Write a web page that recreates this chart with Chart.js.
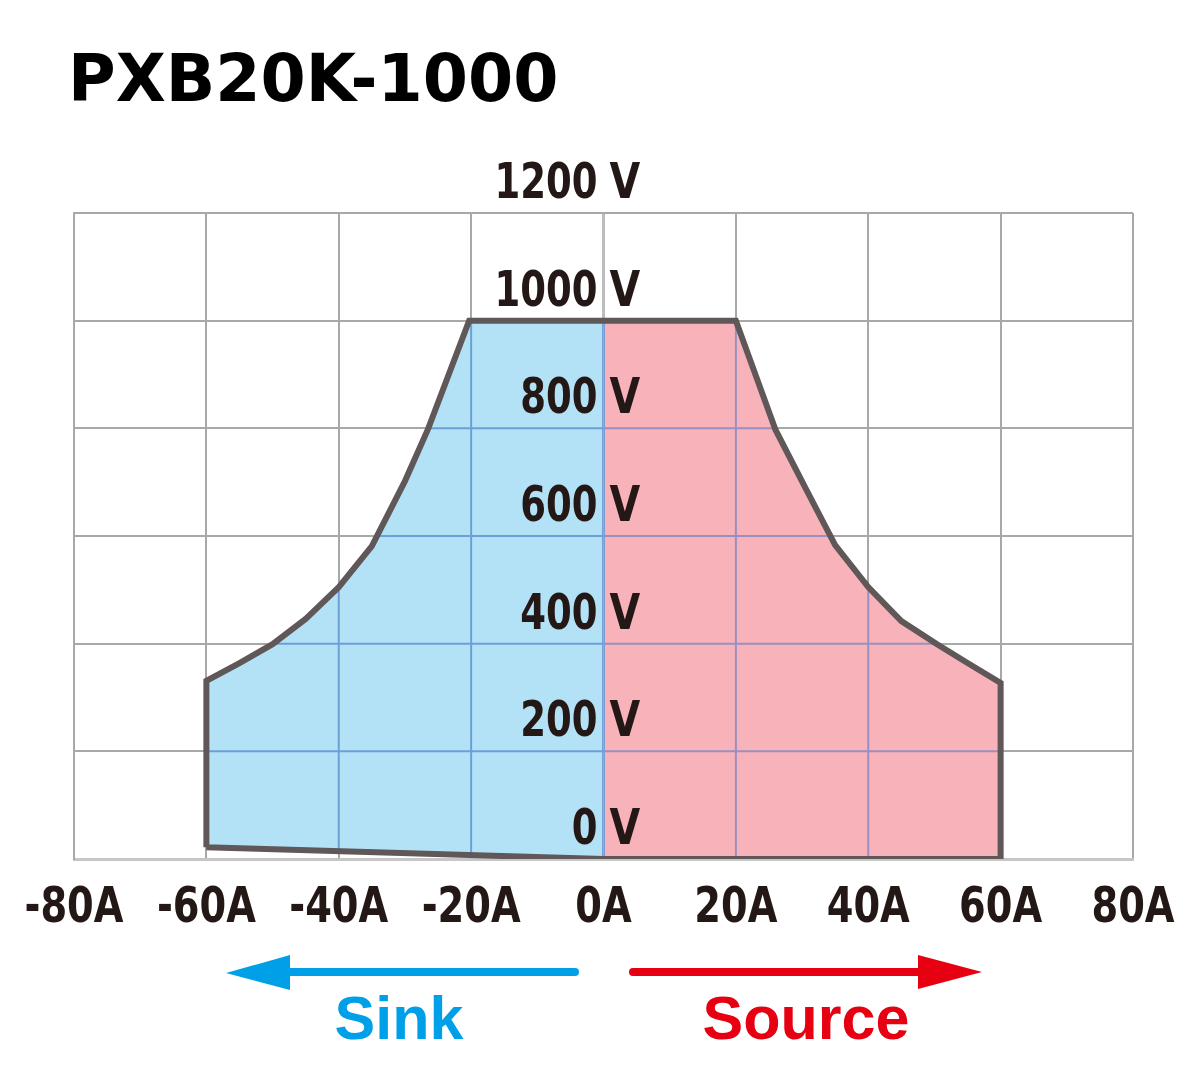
<!DOCTYPE html>
<html lang="en">
<head>
  <meta charset="UTF-8" />
  <title>PXB20K-1000</title>
  <style>
    body {
      margin: 0;
      background: #fff;
    }

    .wrap {
      position: relative;
      width: 1200px;
      height: 1075px;
    }

    .title {
      position: absolute;
      left: 68px;
      top: 46px;
      font-family: "DejaVu Sans", sans-serif;
      font-weight: bold;
      font-size: 65px;
      line-height: 65px;
      color: #000;
      white-space: nowrap;
    }

    .dir {
      position: absolute;
      top: 988px;
      font-family: "Liberation Sans", Arial, sans-serif;
      font-weight: bold;
      font-size: 61px;
      line-height: 61px;
      width: 300px;
      text-align: center;
    }

    #sink { left: 249px; color: #00a0e9; }
    #source { left: 656px; color: #e60012; }

    svg.arrows {
      position: absolute;
      left: 0;
      top: 0;
    }
  </style>
</head>
<body>
  <div class="wrap">
    <canvas id="chart"></canvas>
    <div class="title">PXB20K-1000</div>
    <svg class="arrows" width="1200" height="1075">
      <line x1="288" y1="972" x2="575" y2="972" stroke="#00a0e9" stroke-width="8" stroke-linecap="round" />
      <polygon points="226,973 290,955 290,990" fill="#00a0e9" />
      <line x1="633" y1="972" x2="920" y2="972" stroke="#e60012" stroke-width="8" stroke-linecap="round" />
      <polygon points="918,955 918,989 982,972" fill="#e60012" />
    </svg>
    <div class="dir" id="sink">Sink</div>
    <div class="dir" id="source">Source</div>
  </div>

  <script src="https://cdn.jsdelivr.net/npm/chart.js"></script>
<script>
  // operating area (A, V)
  const sinkCurrent = [0, -60, -60, -55, -50, -45, -40, -35, -30, -26.5, -20.3, 0, 0];
  const sinkVoltage = [0, 22, 331, 364, 399, 446, 505, 581, 702, 799, 1000, 1000, 0];
  const sourceCurrent = [0, 60, 60, 55, 50.4, 45, 40, 35, 30.6, 26, 20, 0, 0];
  const sourceVoltage = [0, 0, 327, 364, 399, 442, 505, 583, 687, 797, 1000, 1000, 0];

  const currentTicks = [-80, -60, -40, -20, 0, 20, 40, 60, 80];
  const voltageTicks = [0, 200, 400, 600, 800, 1000, 1200];

  const toPoints = (xs, ys) => xs.map((x, i) => ({ x: x, y: ys[i] }));

  // outline: sink edge up to the flat top, then down the source edge, back to the start
  const outline = [];
  for (let i = 1; i <= 10; i++) outline.push({ x: sinkCurrent[i], y: sinkVoltage[i] });
  for (let i = 10; i >= 0; i--) outline.push({ x: sourceCurrent[i], y: sourceVoltage[i] });
  outline.push({ x: sinkCurrent[1], y: sinkVoltage[1] });

  const labelFont = 'bold 49px "Liberation Sans Narrow", "DejaVu Sans Condensed", sans-serif';

  // text squeezed horizontally (the original labels use a narrow face)
  function narrowText(ctx, text, x, y, align, squeeze) {
    const w = ctx.measureText(text).width * squeeze;
    let left = x;
    if (align === 'right') left = x - w;
    if (align === 'center') left = x - w / 2;
    ctx.save();
    ctx.translate(left, y);
    ctx.scale(squeeze, 1);
    ctx.textAlign = 'left';
    ctx.fillText(text, 0, 0);
    ctx.restore();
  }

  // blue-ish grid lines over the filled areas, under the outline
  const overlayGrid = {
    id: 'overlayGrid',
    afterDatasetDraw(chart, args) {
      if (args.index !== 0) return;
      const ctx = chart.ctx;
      const xs = chart.scales.x, ys = chart.scales.y;
      const area = chart.chartArea;
      const regions = [
        { idx: 0, color: '#6c9fd8' },
        { idx: 1, color: '#998fc2' }
      ];
      regions.forEach(r => {
        const pts = chart.getDatasetMeta(r.idx).data;
        ctx.save();
        ctx.beginPath();
        pts.forEach((p, i) => i ? ctx.lineTo(p.x, p.y) : ctx.moveTo(p.x, p.y));
        ctx.closePath();
        ctx.clip();
        currentTicks.forEach(v => {
          const px = xs.getPixelForValue(v);
          ctx.lineWidth = v === 0 ? 3 : 2;
          ctx.strokeStyle = v === 0 ? '#789fd6' : r.color;
          ctx.beginPath();
          ctx.moveTo(px, area.top);
          ctx.lineTo(px, area.bottom);
          ctx.stroke();
        });
        ctx.strokeStyle = r.color;
        ctx.lineWidth = 2;
        voltageTicks.forEach(v => {
          const py = ys.getPixelForValue(v);
          ctx.beginPath();
          ctx.moveTo(area.left, py);
          ctx.lineTo(area.right, py);
          ctx.stroke();
        });
        ctx.restore();
      });
    }
  };

  const axisLabels = {
    id: 'axisLabels',
    afterDraw(chart) {
      const ctx = chart.ctx;
      const xs = chart.scales.x, ys = chart.scales.y;
      const x0 = xs.getPixelForValue(0);
      ctx.save();
      ctx.font = labelFont;
      ctx.fillStyle = '#231815';
      ctx.textBaseline = 'alphabetic';
      voltageTicks.forEach(v => {
        const py = ys.getPixelForValue(v) - 15;
        narrowText(ctx, String(v), x0 - 6, py, 'right', 0.84);
        narrowText(ctx, 'V', x0 + 6, py, 'left', 0.9);
      });
      currentTicks.forEach(v => {
        narrowText(ctx, v + 'A', xs.getPixelForValue(v), chart.chartArea.bottom + 63, 'center', 0.87);
      });
      ctx.restore();
    }
  };

  const ctx = document.getElementById('chart').getContext('2d');
  new Chart(ctx, {
    type: 'scatter',
    data: {
      datasets: [
        {
          label: 'Sink',
          data: toPoints(sinkCurrent, sinkVoltage),
          showLine: true,
          fill: 'shape',
          backgroundColor: '#b3e2f7',
          borderWidth: 0,
          pointRadius: 0,
          order: 1
        },
        {
          label: 'Source',
          data: toPoints(sourceCurrent, sourceVoltage),
          showLine: true,
          fill: 'shape',
          backgroundColor: '#f7b3b9',
          borderWidth: 0,
          pointRadius: 0,
          order: 2
        },
        {
          label: 'Outline',
          data: outline,
          showLine: true,
          fill: false,
          borderColor: '#5f5758',
          borderWidth: 6,
          borderJoinStyle: 'miter',
          pointRadius: 0,
          order: 0
        }
      ]
    },
    options: {
      responsive: true,
      maintainAspectRatio: false,
      animation: false,
      layout: {
        padding: { left: 74, right: 67, top: 213, bottom: 216 }
      },
      plugins: {
        legend: { display: false },
        tooltip: { enabled: false }
      },
      scales: {
        x: {
          type: 'linear',
          min: -80,
          max: 80,
          ticks: { display: false, stepSize: 20 },
          grid: {
            drawTicks: false,
            color: ctx => ctx.tick && ctx.tick.value === 0 ? '#bdbdbd' : '#a8a8a8',
            lineWidth: ctx => ctx.tick && ctx.tick.value === 0 ? 3 : 2
          },
          border: { color: '#c6c6c6', width: 3 }
        },
        y: {
          type: 'linear',
          min: 0,
          max: 1200,
          ticks: { display: false, stepSize: 200 },
          grid: { drawTicks: false, color: '#a8a8a8', lineWidth: 2 },
          border: { color: '#a8a8a8', width: 2 }
        }
      }
    },
    plugins: [overlayGrid, axisLabels]
  });
</script>
</body>
</html>
